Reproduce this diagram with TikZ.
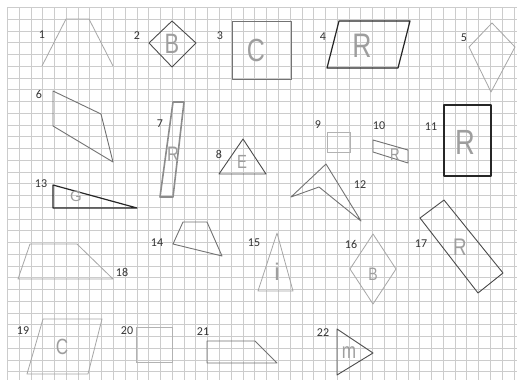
\documentclass[tikz,border=0pt]{standalone}
\usepackage{fontspec}
\setmainfont{Carlito}
\newfontfamily\handfont{Liberation Sans}
\newcommand{\hnarrow}[1]{\scalebox{0.78}[1]{#1}}
\begin{document}
\begin{tikzpicture}[x=1pt,y=-1pt,
  gridline/.style={draw=black!20, line width=0.6pt},
  shp/.style={draw=black!55, line width=0.9pt, line join=round},
  lightshp/.style={draw=black!35, line width=0.8pt, line join=round},
  faintshp/.style={draw=black!30, line width=0.7pt},
  darkshp/.style={draw=black!85, line width=1.2pt, line join=round},
  num/.style={font=\fontsize{12}{12}\selectfont, text=black!80, inner sep=0pt},
  hand/.style={text=black!38, inner sep=0pt}]
\fill[white] (0,0) rectangle (517,380);
\useasboundingbox (0,0) rectangle (517,380);
% grid
\foreach \k in {0,...,43} { \draw[gridline] ({7.3+11.78*\k},7.3) -- ({7.3+11.78*\k},380); }
\foreach \k in {0,...,31} { \draw[gridline] (7.3,{7.3+11.75*\k}) -- (517,{7.3+11.75*\k}); }
% labels
\node[num] (n1) at (42,35) {1};
\node[num] (n2) at (137,36) {2};
\node[num] (n3) at (220,36) {3};
\node[num] (n4) at (323,37) {4};
\node[num] (n5) at (464,38) {5};
\node[num] (n6) at (39,94) {6};
\node[num] (n7) at (160,124) {7};
\node[num] (n8) at (219,154) {8};
\node[num] (n9) at (318,125) {9};
\node[num] (n10) at (379,126) {10};
\node[num] (n11) at (431,127) {11};
\node[num] (n12) at (360,185) {12};
\node[num] (n13) at (41,184) {13};
\node[num] (n14) at (157,243) {14};
\node[num] (n15) at (254,243) {15};
\node[num] (n16) at (351,244) {16};
\node[num] (n17) at (421,244) {17};
\node[num] (n18) at (122,272) {18};
\node[num] (n19) at (23,331) {19};
\node[num] (n20) at (127,331) {20};
\node[num] (n21) at (203,332) {21};
\node[num] (n22) at (323,333) {22};
% 1 trapezoid
\draw[lightshp] (42,66) -- (66,19) -- (89,19) -- (113,66);
% 2 diamond
\draw[shp, draw=black!70] (172,21) -- (196,43) -- (172,67) -- (149,43) -- cycle;
\node[hand, font=\handfont\fontsize{28}{28}\selectfont] (l2) at (172,44) {\hnarrow{B}};
% 3 rectangle
\draw[shp] (232,21) rectangle (291,79);
\node[hand, font=\handfont\fontsize{32}{32}\selectfont] (l3) at (256,50) {\hnarrow{C}};
% 4 parallelogram
\draw[darkshp] (339,21) -- (410,21) -- (398,68) -- (327,68) -- cycle;
\node[hand, font=\handfont\fontsize{34}{34}\selectfont] (l4) at (362,46) {\hnarrow{R}};
% 5 kite
\draw[lightshp] (492,23) -- (515,47) -- (491,92) -- (469,47) -- cycle;
% 6
\draw[shp] (53,91) -- (101,114) -- (113,162) -- (53,126) -- cycle;
% 7 thin tilted bar
\draw[shp, line width=1.6pt, draw=black!45] (173,102) -- (184,102) -- (173,197) -- (160,197) -- cycle;
\node[hand, font=\handfont\fontsize{21}{21}\selectfont] (l7) at (173,154) {\hnarrow{R}};
% 8 triangle
\draw[shp, draw=black!70] (243,139) -- (266,174) -- (219,174) -- cycle;
\node[hand, font=\handfont\fontsize{19}{19}\selectfont] (l8) at (242,162) {\hnarrow{E}};
% 9 small square
\draw[faintshp] (327,132) rectangle (350,152);
% 10 small parallelogram
\draw[shp] (373,140) -- (408,150) -- (408,163) -- (373,152) -- cycle;
\node[hand, font=\handfont\fontsize{17}{17}\selectfont] (l10) at (395,155) {\hnarrow{R}};
% 11 rectangle
\draw[darkshp] (444,105) rectangle (491,176);
\node[hand, font=\handfont\fontsize{35}{35}\selectfont] (l11) at (465,142) {\hnarrow{R}};
% 12 dart
\draw[shp] (291,197) -- (326,164) -- (361,221) -- (319,187) -- cycle;
% 13 right triangle
\draw[darkshp] (53,185) -- (137,208) -- (53,208) -- cycle;
\node[hand, font=\handfont\fontsize{15}{15}\selectfont] (l13) at (76,196) {G};
% 14
\draw[shp] (183,222) -- (207,222) -- (222,256) -- (173,244) -- cycle;
% 15 tall triangle
\draw[lightshp] (277,233) -- (293,291) -- (258,291) -- cycle;
\node[hand, font=\handfont\fontsize{24}{24}\selectfont] (l15) at (277,272) {i};
% 16 rhombus
\draw[lightshp] (373,234) -- (396,269) -- (373,304) -- (350,269) -- cycle;
\node[hand, font=\handfont\fontsize{18}{18}\selectfont] (l16) at (373,274) {\hnarrow{B}};
% 17 rotated rectangle
\draw[shp, draw=black!70] (420,218) -- (444,200) -- (503,273) -- (478,293) -- cycle;
\node[hand, font=\handfont\fontsize{24}{24}\selectfont] (l17) at (460,247) {\hnarrow{R}};
% 18 trapezoid
\draw[lightshp] (30,244) -- (77,244) -- (113,279) -- (18,279) -- cycle;
% 19 parallelogram
\draw[lightshp] (43,319) -- (102,319) -- (88,374) -- (27,374) -- cycle;
\node[hand, font=\handfont\fontsize{22}{22}\selectfont] (l19) at (62,347) {\hnarrow{C}};
% 20 faint square
\draw[faintshp] (136,327) rectangle (172,362);
% 21
\draw[shp] (207,341) -- (255,341) -- (277,363) -- (207,363) -- cycle;
% 22 triangle
\draw[shp, draw=black!70] (337,329) -- (373,353) -- (337,375) -- cycle;
\node[hand, font=\handfont\fontsize{22}{22}\selectfont] (l22) at (349,353) {\hnarrow{m}};
\end{tikzpicture}
\end{document}
